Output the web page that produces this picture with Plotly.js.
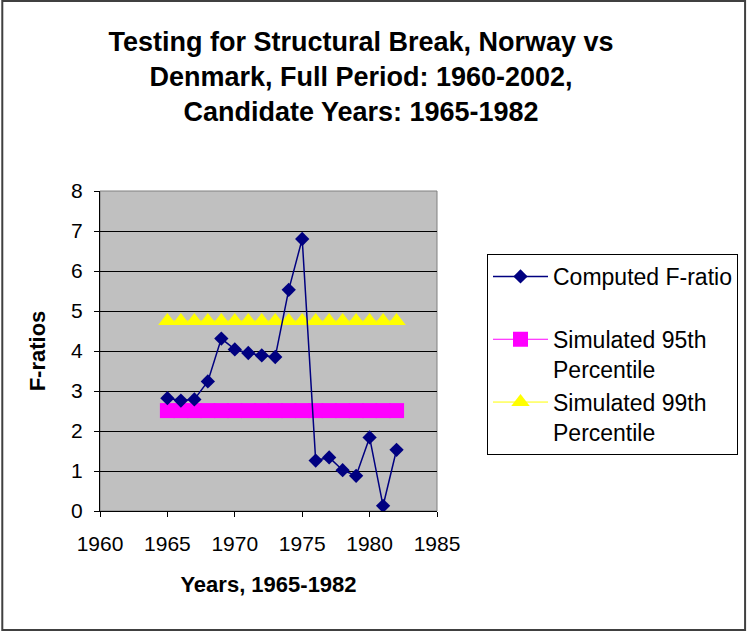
<!DOCTYPE html>
<html>
<head>
<meta charset="utf-8">
<script src="https://cdn.plot.ly/plotly-3.0.1.min.js"></script>
<style>
html, body { margin: 0; padding: 0; background: #ffffff; }
#chart { width: 749px; height: 632px; }
</style>
</head>
<body>
<div id="chart"></div>
<script>
// Data
var years = [1965, 1966, 1967, 1968, 1969, 1970, 1971, 1972, 1973, 1974, 1975, 1976, 1977, 1978, 1979, 1980, 1981, 1982];
var computedF = [2.82, 2.76, 2.79, 3.24, 4.31, 4.04, 3.95, 3.89, 3.85, 5.53, 6.80, 1.26, 1.34, 1.02, 0.88, 1.84, 0.13, 1.53];
var sim95 = [2.51, 2.51, 2.51, 2.51, 2.51, 2.51, 2.51, 2.51, 2.51, 2.51, 2.51, 2.51, 2.51, 2.51, 2.51, 2.51, 2.51, 2.51];
var sim99 = [4.75, 4.75, 4.75, 4.75, 4.75, 4.75, 4.75, 4.75, 4.75, 4.75, 4.75, 4.75, 4.75, 4.75, 4.75, 4.75, 4.75, 4.75];
var seriesNames = ["Computed F-ratio<br>&nbsp;", "Simulated 95th<br>Percentile", "Simulated 99th<br>Percentile"];
var xTickVals = [1960, 1965, 1970, 1975, 1980, 1985];
var yTickVals = [0, 1, 2, 3, 4, 5, 6, 7, 8];

var FONT = "Liberation Sans, Arial, sans-serif";

var traces = [
  {
    x: years, y: sim95, name: seriesNames[1], type: "scatter", mode: "lines+markers",
    line: { color: "#FF00FF", width: 1 },
    marker: { symbol: "square", size: 15, color: "#FF00FF" },
    legendgroup: "b", legendrank: 2
  },
  {
    x: years, y: sim99, name: seriesNames[2], type: "scatter", mode: "lines+markers",
    line: { color: "#FFFF00", width: 1 },
    marker: { symbol: "triangle-up", size: 16, color: "#FFFF00" },
    legendgroup: "c", legendrank: 3
  },
  {
    x: years, y: computedF, name: seriesNames[0], type: "scatter", mode: "lines+markers",
    line: { color: "#000080", width: 1.5 },
    marker: { symbol: "diamond", size: 11, color: "#000080" },
    legendgroup: "a", legendrank: 1
  }
];

var layout = {
  width: 749, height: 632,
  margin: { l: 100, r: 311, t: 191, b: 121, pad: 0 },
  paper_bgcolor: "#ffffff",
  plot_bgcolor: "#C0C0C0",
  font: { family: FONT, color: "#000000", size: 20 },
  title: {
    text: "Testing for Structural Break, Norway vs<br>Denmark, Full Period: 1960-2002,<br>Candidate Years: 1965-1982",
    font: { family: FONT, size: 27, color: "#000000", weight: "bold" },
    x: 361 / 749, xref: "container", xanchor: "center",
    y: 1 - 51 / 632, yref: "container", yanchor: "top"
  },
  xaxis: {
    range: [1960, 1985], tickvals: xTickVals, ticktext: xTickVals.map(String),
    showgrid: false, zeroline: false,
    showline: true, linecolor: "#000000", linewidth: 1,
    ticks: "outside", ticklen: 5, tickcolor: "#000000", tickwidth: 1,
    ticklabelstandoff: 9,
    tickfont: { family: FONT, size: 21, color: "#000000" },
    title: { text: "Years, 1965-1982", font: { family: FONT, size: 22, weight: "bold", color: "#000000" }, standoff: 22 },
    fixedrange: true
  },
  yaxis: {
    range: [0, 8], tickvals: yTickVals,
    showgrid: true, gridcolor: "#000000", gridwidth: 1, zeroline: false,
    showline: true, linecolor: "#000000", linewidth: 1,
    ticks: "outside", ticklen: 5, tickcolor: "#000000", tickwidth: 1,
    ticklabelstandoff: 7,
    tickfont: { family: FONT, size: 21, color: "#000000" },
    title: { text: "F-ratios", font: { family: FONT, size: 22, weight: "bold", color: "#000000" }, standoff: 19 },
    fixedrange: true
  },
  showlegend: true,
  legend: {
    x: (487 - 100) / 338, xanchor: "left",
    y: (511 - 254) / 320, yanchor: "top",
    bgcolor: "#ffffff", bordercolor: "#000000", borderwidth: 1,
    font: { family: FONT, size: 23, color: "#000000" },
    itemwidth: 55, valign: "top", tracegroupgap: 25,
    traceorder: "normal"
  },
  shapes: [
    { type: "rect", xref: "paper", yref: "paper", x0: 0, x1: 1, y0: 0, y1: 1,
      line: { color: "#808080", width: 1 }, fillcolor: "rgba(0,0,0,0)", layer: "below" },
    { type: "rect", xref: "paper", yref: "paper",
      x0: (2 - 100) / 338, x1: (747 - 100) / 338, y0: (511 - 630) / 320, y1: (511 - 1) / 320,
      line: { color: "#404040", width: 2 }, fillcolor: "rgba(0,0,0,0)" }
  ]
};

Plotly.newPlot("chart", traces, layout, { displayModeBar: false, staticPlot: true });
</script>
</body>
</html>
